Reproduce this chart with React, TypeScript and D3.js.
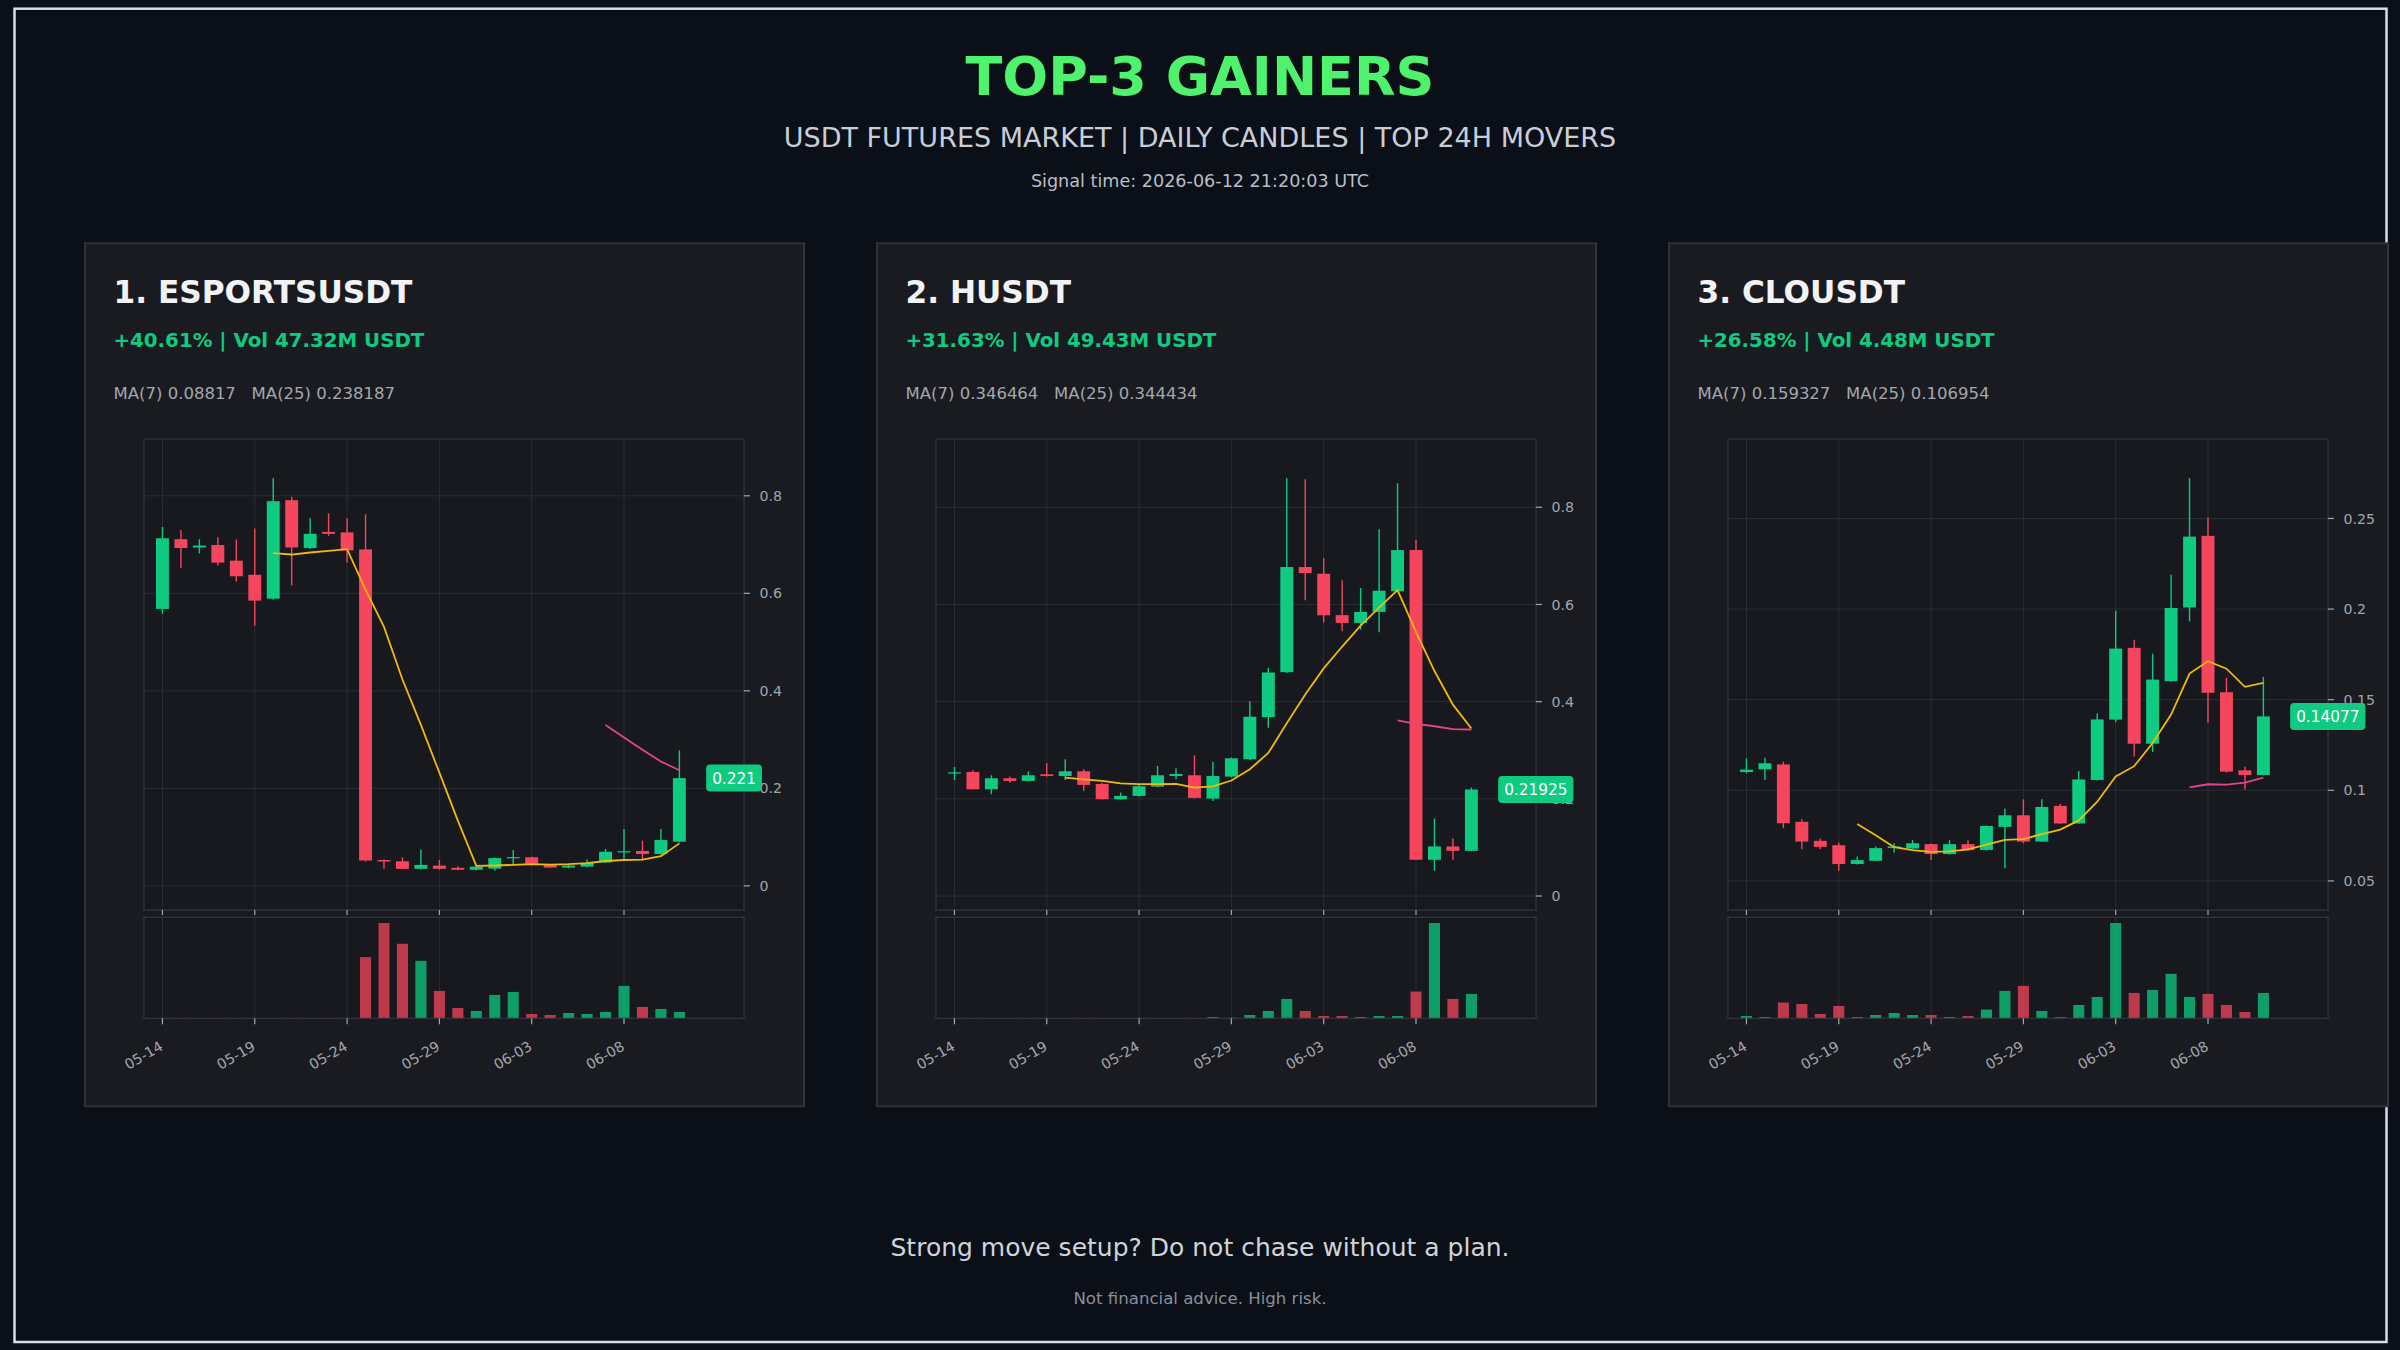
import React from "react";
import * as d3 from "d3";

// ---------- data ----------
const tickDays = [0, 5, 10, 15, 20, 25];
const tickLabels = ["05-14", "05-19", "05-24", "05-29", "06-03", "06-08"];

const coinTitles = ["1. ESPORTSUSDT", "2. HUSDT", "3. CLOUSDT"];
const changeTexts = ["+40.61% | Vol 47.32M USDT", "+31.63% | Vol 49.43M USDT", "+26.58% | Vol 4.48M USDT"];
const maTexts = ["MA(7) 0.08817   MA(25) 0.238187", "MA(7) 0.346464   MA(25) 0.344434", "MA(7) 0.159327   MA(25) 0.106954"];
const lastPriceTexts = ["0.221", "0.21925", "0.14077"];

const priceTicks1 = [0, 0.2, 0.4, 0.6, 0.8];
const priceTickLabels1 = ["0", "0.2", "0.4", "0.6", "0.8"];
const priceTicks2 = [0, 0.2, 0.4, 0.6, 0.8];
const priceTickLabels2 = ["0", "0.2", "0.4", "0.6", "0.8"];
const priceTicks3 = [0.05, 0.1, 0.15, 0.2, 0.25];
const priceTickLabels3 = ["0.05", "0.1", "0.15", "0.2", "0.25"];

// [open, high, low, close]
const esportsOHLC: number[][] = [
  [0.568, 0.736, 0.558, 0.713], [0.711, 0.730, 0.652, 0.693], [0.694, 0.711, 0.682, 0.698],
  [0.699, 0.715, 0.657, 0.663], [0.667, 0.710, 0.624, 0.635], [0.638, 0.733, 0.534, 0.585],
  [0.589, 0.836, 0.587, 0.789], [0.791, 0.798, 0.616, 0.694], [0.693, 0.754, 0.691, 0.722],
  [0.726, 0.764, 0.718, 0.722], [0.725, 0.754, 0.663, 0.688], [0.690, 0.762, 0.050, 0.052],
  [0.053, 0.054, 0.035, 0.050], [0.0504, 0.0586, 0.034, 0.0348], [0.035, 0.074, 0.034, 0.043],
  [0.0416, 0.053, 0.033, 0.035], [0.037, 0.040, 0.032, 0.033], [0.033, 0.041, 0.032, 0.0395],
  [0.0354, 0.058, 0.031, 0.057], [0.057, 0.0736, 0.045, 0.059], [0.0586, 0.060, 0.044, 0.045],
  [0.0436, 0.045, 0.037, 0.0375], [0.0375, 0.043, 0.036, 0.0416], [0.0395, 0.054, 0.038, 0.047],
  [0.048, 0.0757, 0.047, 0.070], [0.069, 0.1166, 0.055, 0.071], [0.0716, 0.0927, 0.055, 0.0654],
  [0.0654, 0.1166, 0.064, 0.094], [0.0906, 0.278, 0.089, 0.221],
];
const esportsVolume = [0.3, 0.3, 0.3, 0.3, 0.3, 0.3, 0.3, 0.3, 0.3, 0.3, 0.3, 61, 95, 74.3, 57.3, 27.3, 10.3, 7.3, 23.3, 26.3, 4.3, 3.3, 5.3, 4.3, 6.3, 32.3, 11.3, 9.3, 6.3];

const huOHLC: number[][] = [
  [0.2525, 0.2655, 0.239, 0.2545], [0.2553, 0.2587, 0.219, 0.2197], [0.2197, 0.2485, 0.2094, 0.2423],
  [0.2423, 0.2457, 0.2334, 0.2368], [0.2368, 0.2567, 0.236, 0.2485], [0.2505, 0.2731, 0.246, 0.247],
  [0.247, 0.2813, 0.2389, 0.2567], [0.2567, 0.2608, 0.2163, 0.2286], [0.2306, 0.233, 0.1985, 0.1992],
  [0.1992, 0.2129, 0.1985, 0.206], [0.206, 0.2285, 0.205, 0.2259], [0.2252, 0.2676, 0.224, 0.2485],
  [0.247, 0.2628, 0.2402, 0.2512], [0.2485, 0.2895, 0.2005, 0.2019], [0.2005, 0.2765, 0.1957, 0.247],
  [0.2457, 0.285, 0.244, 0.2834], [0.2813, 0.401, 0.280, 0.369], [0.368, 0.4695, 0.3463, 0.46],
  [0.4606, 0.8597, 0.459, 0.677], [0.677, 0.8577, 0.6085, 0.6646], [0.6632, 0.6954, 0.5633, 0.5777],
  [0.578, 0.6496, 0.5448, 0.562], [0.562, 0.634, 0.548, 0.5846], [0.5846, 0.755, 0.5428, 0.6283],
  [0.627, 0.8494, 0.625, 0.7118], [0.712, 0.733, 0.0746, 0.0746], [0.0746, 0.1595, 0.052, 0.102],
  [0.102, 0.1184, 0.0746, 0.093], [0.093, 0.2232, 0.092, 0.21925],
];
const huVolume = [0.3, 0.3, 0.3, 0.3, 0.3, 0.3, 0.3, 0.3, 0.3, 0.3, 0.3, 0.3, 0.3, 0.3, 1.3, 0.5, 3.3, 7.3, 19.3, 7.3, 2.3, 2.3, 1.3, 2.3, 2.3, 26.7, 95, 19.3, 24.3];

const clouOHLC: number[][] = [
  [0.1101, 0.1176, 0.1094, 0.1114], [0.1116, 0.118, 0.1057, 0.1149], [0.1143, 0.1158, 0.0791, 0.0818],
  [0.0826, 0.084, 0.0675, 0.0717], [0.0721, 0.0734, 0.0675, 0.0688], [0.0697, 0.0712, 0.0556, 0.0593],
  [0.0593, 0.0635, 0.059, 0.0615], [0.0611, 0.069, 0.0608, 0.0681], [0.0681, 0.0708, 0.0657, 0.069],
  [0.0679, 0.0725, 0.0676, 0.0708], [0.0703, 0.0706, 0.0616, 0.0648], [0.0648, 0.0725, 0.0645, 0.0703],
  [0.0703, 0.0725, 0.0665, 0.067], [0.0671, 0.0806, 0.0668, 0.0803], [0.0798, 0.0899, 0.057, 0.0862],
  [0.0862, 0.095, 0.0708, 0.0717], [0.0717, 0.095, 0.0714, 0.0908], [0.0914, 0.0925, 0.0815, 0.0817],
  [0.0817, 0.1106, 0.0815, 0.106], [0.1057, 0.1424, 0.1054, 0.1391], [0.139, 0.1991, 0.1376, 0.1782],
  [0.1786, 0.1831, 0.1186, 0.1257], [0.1257, 0.1754, 0.1211, 0.1611], [0.1602, 0.2189, 0.16, 0.2006],
  [0.2009, 0.2722, 0.1932, 0.24], [0.2404, 0.2505, 0.1373, 0.1538], [0.1541, 0.162, 0.1098, 0.1103],
  [0.111, 0.113, 0.1005, 0.1084], [0.1084, 0.1626, 0.1082, 0.14077],
];
const clouVolume = [2.3, 1.3, 15.7, 14.3, 4.3, 12.3, 1.3, 3.3, 5.3, 3.3, 3.3, 1.3, 2.3, 8.7, 27.3, 32.3, 7.3, 1.3, 13.3, 21.3, 95, 25.3, 28.3, 44.3, 21.3, 24.3, 13.3, 6.3, 25.3];

// ---------- style ----------
const BG = "#0b0f17";
const CARD = "#1a1b21";
const CARD_STROKE = "#2e323a";
const GREEN = "#0ecb81";
const RED = "#f6465d";
const MA7C = "#f0b90b";
const MA25C = "#e0468f";
const GRID = "#2a2d35";
const SPINE = "#33373f";
const TICK = "#a0a6ae";
const FONT = "DejaVu Sans, Verdana, sans-serif";

function movingAverage(vals: number[], n: number): (number | null)[] {
  return vals.map((_, i) => (i < n - 1 ? null : (d3.mean(vals.slice(i - n + 1, i + 1)) as number)));
}

function textWidth(s: string, size: number) {
  let w = 0;
  for (const ch of s) w += ch === "." ? 0.318 : 0.636;
  return w * size;
}

type PanelProps = {
  cx: number;
  title: string;
  change: string;
  maText: string;
  ohlc: number[][];
  vol: number[];
  yTicks: number[];
  yTickLabels: string[];
  lastLabel: string;
};

function Panel({ cx, title, change, maText, ohlc, vol, yTicks, yTickLabels, lastLabel }: PanelProps) {
  const cardTop = 243.3;
  const px0 = cx + 60, px1 = cx + 660, py0 = 439, py1 = 910, vy0 = 917.3, vy1 = 1018.3;
  const x = d3.scaleLinear().domain([-1, 31.5]).range([px0, px1]);
  const lo = d3.min(ohlc, (d) => d[2]) as number;
  const hi = d3.max(ohlc, (d) => d[1]) as number;
  const pad = (hi - lo) * 0.1;
  const y = d3.scaleLinear().domain([lo - pad, hi + pad]).range([py1, py0]);
  const vmax = d3.max(vol) as number;
  const yv = d3.scaleLinear().domain([0, vmax * 1.06]).range([vy1, vy0]);

  const closes = ohlc.map((d) => d[3]);
  const ma7 = movingAverage(closes, 7);
  const ma25 = movingAverage(closes, 25);
  const line = d3
    .line<number | null>()
    .defined((d) => d !== null)
    .x((_, i) => x(i))
    .y((d) => y(d as number));

  const bodyW = 0.7 * (x(1) - x(0));
  const volW = 0.6 * (x(1) - x(0));
  const last = ohlc.length - 1;
  const lastClose = closes[last];
  const lblSize = 15.3;
  const lblW = textWidth(lastLabel, lblSize) + 12;
  const lblX = x(last + 1.45);

  return (
    <g>
      <rect x={cx + 1} y={cardTop} width={719} height={863} fill={CARD} stroke={CARD_STROKE} strokeWidth={2} />
      <text x={cx + 29.5} y={302.7} fill="#f2f3f6" fontSize={31.2} fontWeight="bold" fontFamily={FONT}>{title}</text>
      <text x={cx + 29.5} y={347.3} fill={GREEN} fontSize={19.8} fontWeight="bold" fontFamily={FONT}>{change}</text>
      <text x={cx + 29.5} y={399.3} fill="#a3a7ae" fontSize={16.5} fontFamily={FONT} style={{ whiteSpace: "pre" }}>{maText}</text>

      {/* price axes */}
      <rect x={px0} y={py0} width={px1 - px0} height={py1 - py0} fill="#17191e" />
      {tickDays.map((d) => (
        <line key={"vg" + d} x1={x(d)} x2={x(d)} y1={py0} y2={py1} stroke={GRID} strokeWidth={1} />
      ))}
      {yTicks.map((t) => (
        <line key={"hg" + t} x1={px0} x2={px1} y1={y(t)} y2={y(t)} stroke={GRID} strokeWidth={1} />
      ))}
      <rect x={px0} y={py0} width={px1 - px0} height={py1 - py0} fill="none" stroke={SPINE} strokeWidth={1.2} />
      {yTicks.map((t, i) => (
        <g key={"yt" + t}>
          <line x1={px1} x2={px1 + 6} y1={y(t)} y2={y(t)} stroke={TICK} strokeWidth={1.2} />
          <text x={px1 + 15.5} y={y(t)} dy="0.36em" fill={TICK} fontSize={14.2} fontFamily={FONT}>{yTickLabels[i]}</text>
        </g>
      ))}
      {tickDays.map((d) => (
        <line key={"xt1" + d} x1={x(d)} x2={x(d)} y1={py1} y2={py1 + 5} stroke={TICK} strokeWidth={1.2} />
      ))}

      {/* candles */}
      {ohlc.map((d, i) => {
        const up = d[3] >= d[0];
        const c = up ? GREEN : RED;
        const top = y(Math.max(d[0], d[3]));
        const bot = y(Math.min(d[0], d[3]));
        return (
          <g key={"c" + i}>
            <line x1={x(i)} x2={x(i)} y1={y(d[1])} y2={y(d[2])} stroke={c} strokeWidth={1.4} />
            <rect x={x(i) - bodyW / 2} y={top} width={bodyW} height={Math.max(bot - top, 1.2)} fill={c} />
          </g>
        );
      })}
      <path d={line(ma7) as string} fill="none" stroke={MA7C} strokeWidth={1.8} />
      <path d={line(ma25) as string} fill="none" stroke={MA25C} strokeWidth={1.8} />

      {/* volume axes */}
      <rect x={px0} y={vy0} width={px1 - px0} height={vy1 - vy0} fill="#17191e" />
      {tickDays.map((d) => (
        <line key={"vvg" + d} x1={x(d)} x2={x(d)} y1={vy0} y2={vy1} stroke={GRID} strokeWidth={1} />
      ))}
      {vol.map((v, i) => {
        const up = ohlc[i][3] >= ohlc[i][0];
        return (
          <rect key={"v" + i} x={x(i) - volW / 2} y={yv(v)} width={volW} height={vy1 - yv(v)} fill={up ? GREEN : RED} fillOpacity={0.75} />
        );
      })}
      <rect x={px0} y={vy0} width={px1 - px0} height={vy1 - vy0} fill="none" stroke={SPINE} strokeWidth={1.2} />
      {tickDays.map((d, i) => (
        <g key={"xt2" + d}>
          <line x1={x(d)} x2={x(d)} y1={vy1} y2={vy1 + 6} stroke={TICK} strokeWidth={1.2} />
          <text
            transform={`translate(${x(d) + 1.5},${vy1 + 31}) rotate(-30)`}
            textAnchor="end"
            fill={TICK}
            fontSize={14.2}
            fontFamily={FONT}
          >
            {tickLabels[i]}
          </text>
        </g>
      ))}

      {/* last price label */}
      <rect x={lblX} y={y(lastClose) - 13.5} width={lblW} height={27} rx={4} fill={GREEN} />
      <text x={lblX + 6} y={y(lastClose)} dy="0.36em" fill="#ffffff" fontSize={lblSize} fontFamily={FONT}>{lastLabel}</text>
    </g>
  );
}

export default function App() {
  const cards = [84, 876, 1668];
  return (
    <svg width={2400} height={1350} style={{ position: "absolute", left: 0, top: 0, display: "block" }} xmlns="http://www.w3.org/2000/svg">
      <rect x={0} y={0} width={2400} height={1350} fill={BG} />
      <rect x={14.5} y={8.7} width={2372} height={1333.3} fill="none" stroke="#d8dde8" strokeWidth={2.5} />
      <text x={1200} y={95} textAnchor="middle" fill="#4ef26c" fontSize={54} fontWeight="bold" fontFamily={FONT}>TOP-3 GAINERS</text>
      <text x={1200} y={147.3} textAnchor="middle" fill="#c9ced6" fontSize={27} fontFamily={FONT}>USDT FUTURES MARKET | DAILY CANDLES | TOP 24H MOVERS</text>
      <text x={1200} y={186.7} textAnchor="middle" fill="#b9bec6" fontSize={17.6} fontFamily={FONT}>Signal time: 2026-06-12 21:20:03 UTC</text>

      <Panel cx={cards[0]} title={coinTitles[0]} change={changeTexts[0]} maText={maTexts[0]} ohlc={esportsOHLC} vol={esportsVolume} yTicks={priceTicks1} yTickLabels={priceTickLabels1} lastLabel={lastPriceTexts[0]} />
      <Panel cx={cards[1]} title={coinTitles[1]} change={changeTexts[1]} maText={maTexts[1]} ohlc={huOHLC} vol={huVolume} yTicks={priceTicks2} yTickLabels={priceTickLabels2} lastLabel={lastPriceTexts[1]} />
      <Panel cx={cards[2]} title={coinTitles[2]} change={changeTexts[2]} maText={maTexts[2]} ohlc={clouOHLC} vol={clouVolume} yTicks={priceTicks3} yTickLabels={priceTickLabels3} lastLabel={lastPriceTexts[2]} />

      <text x={1200} y={1255.7} textAnchor="middle" fill="#d0d4da" fontSize={25} fontFamily={FONT}>Strong move setup? Do not chase without a plan.</text>
      <text x={1200} y={1304} textAnchor="middle" fill="#8a9099" fontSize={16.6} fontFamily={FONT}>Not financial advice. High risk.</text>
    </svg>
  );
}
